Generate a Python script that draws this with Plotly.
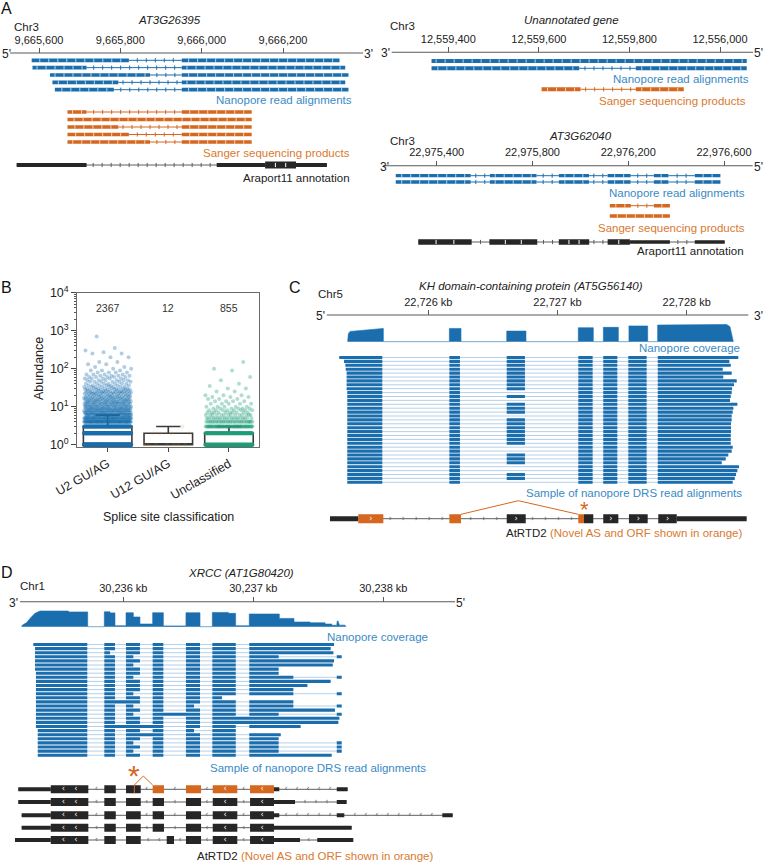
import plotly.graph_objects as go

W, H = 764, 862
FONT = "Liberation Sans, Arial, Helvetica, sans-serif"
BLUE = "#1b6eae"
BLUE_TXT = "#3a8ac6"
BLUE_LT = "#b5d1e8"
ORANGE = "#d6671f"
ORANGE_TXT = "#d9792f"
DARK = "#262626"
GRAY = "#5e5e5e"
AXIS = "#5a5a5a"

# ===================== DATA =====================
# ---- Panel A (left): AT3G26395, Chr3 (bp) ----
a1_ticks = [9665600, 9665800, 9666000, 9666200]
a1_tick_labels = ["9,665,600", "9,665,800", "9,666,000", "9,666,200"]
a1_span = [9665529, 9666397]
a1_nanopore = [
    [(9665582, 9665821), (9665951, 9666339)],
    [(9665584, 9665717), (9665951, 9666353)],
    [(9665627, 9665873), (9665951, 9666361)],
    [(9665633, 9665795), (9665951, 9666353)],
    [(9665639, 9665784), (9665951, 9666361)],
]
a1_sanger = [
    [(9665670, 9665717), (9665951, 9666123)],
    [(9665670, 9666123)],
    [(9665670, 9665795), (9665951, 9666123)],
    [(9665670, 9665821), (9665951, 9666123)],
    [(9665670, 9665873), (9665951, 9666123)],
]
a1_utr = [(9665545, 9665717), (9666037, 9666156), (9666232, 9666308)]
a1_cds = [(9666156, 9666232)]

# ---- Panel A (right top): unannotated gene, Chr3 (bp) ----
a2_ticks = [12559400, 12559600, 12559800, 12560000]
a2_tick_labels = ["12,559,400", "12,559,600", "12,559,800", "12,556,000"]
a2_span = [12559275, 12560073]
a2_nanopore = [
    [(12559363, 12560059)],
    [(12559363, 12559689), (12559814, 12560059)],
]
a2_sanger = [
    [(12559606, 12559692), (12559814, 12559920)],
]

# ---- Panel A (right bottom): AT3G62040, Chr3 (bp) ----
a3_ticks = [22975400, 22975800, 22976200, 22976600]
a3_tick_labels = ["22,975,400", "22,975,800", "22,976,200", "22,976,600"]
a3_span = [22975176, 22976720]
a3_nanopore = [
    [(22975229, 22975542), (22975622, 22975817), (22975910, 22976036),
     (22976114, 22976210), (22976307, 22976368), (22976478, 22976585)],
    [(22975229, 22975542), (22975622, 22975817), (22975910, 22976036),
     (22976114, 22976210), (22976307, 22976368), (22976478, 22976585)],
]
a3_sanger = [
    [(22976123, 22976211), (22976307, 22976374)],
    [(22976123, 22976374)],
]
a3_cds = [(22975323, 22975546), (22975620, 22975820), (22975910, 22976037), (22976114, 22976207)]
a3_utr = [(22976207, 22976374), (22976478, 22976603)]

# ---- Panel B: splice-site classes, abundance value -> number of junctions ----
b_categories = ["U2 GU/AG", "U12 GU/AG", "Unclassified"]
b_totals = ["2367", "12", "855"]
u2_levels = [1, 2, 3, 4, 5, 6, 7, 8, 9, 10, 11, 12, 13, 14, 15, 16, 17, 18, 19, 20,
             22, 24, 26, 28, 30, 33, 36, 40, 45, 50, 55, 60, 65, 70, 80, 90, 100,
             110, 130, 150, 200, 250, 270, 300, 350, 700]
u2_counts = [1210, 380, 200, 95, 70, 50, 38, 30, 24, 22, 18, 16, 14, 13, 12, 11, 10, 9, 8, 8,
             14, 13, 10, 9, 8, 8, 7, 7, 6, 6, 5, 5, 4, 4, 4, 3, 2,
             2, 2, 2, 2, 2, 1, 1, 1, 1]
u12_levels = [1, 2, 3]
u12_counts = [7, 4, 1]
unc_levels = [1, 2, 3, 4, 5, 6, 7, 8, 9, 10, 12, 14, 16, 18, 20, 25, 30, 35, 40, 50, 60, 90, 100, 150]
unc_counts = [458, 200, 70, 35, 20, 14, 10, 8, 6, 5, 5, 4, 3, 3, 3, 2, 2, 1, 1, 1, 1, 1, 1, 1]

# ---- Panel C: KH domain-containing protein (AT5G56140), Chr5 (kb) ----
c_ticks = [22726, 22727, 22728]
c_tick_labels = ["22,726 kb", "22,727 kb", "22,728 kb"]
c_span = [22725.214, 22728.477]
c_cov_kb = [22725.376, 22725.381, 22725.394, 22725.523, 22725.647, 22725.652, 22725.652,
            22726.163, 22726.163, 22726.253, 22726.253,
            22726.607, 22726.607, 22726.756, 22726.756,
            22727.161, 22727.161, 22727.277, 22727.277,
            22727.355, 22727.355, 22727.471, 22727.471,
            22727.553, 22727.553, 22727.698, 22727.698,
            22727.775, 22727.775, 22728.258, 22728.309, 22728.335, 22728.356, 22728.361]
c_cov_depth = [0, 45, 58, 66, 75, 75, 0,
               0, 75, 75, 0,
               0, 60, 60, 0,
               0, 79, 79, 0,
               0, 81, 81, 0,
               0, 89, 89, 0,
               0, 94, 100, 97, 85, 19, 0]
c_exon_start = [22725.373, 22726.163, 22726.607, 22727.161, 22727.354, 22727.548, 22727.776]
c_exon_end = [22725.644, 22726.245, 22726.748, 22727.272, 22727.463, 22727.690]
c_read_start = [22725.311, 22725.348, 22725.358, 22725.361, 22725.368, 22725.368, 22725.368,
                22725.368, 22725.368] + [22725.373] * 24
c_read_end = [22728.399, 22728.330, 22728.341, 22728.279, 22728.348, 22728.283, 22728.387,
              22728.366, 22728.351, 22728.348, 22728.341, 22728.335, 22728.392, 22728.361,
              22728.356, 22728.348, 22728.348, 22728.343, 22728.343, 22728.343, 22728.341,
              22728.341, 22728.341, 22728.356, 22728.348, 22728.322, 22728.302, 22728.271,
              22728.405, 22728.392, 22728.382, 22728.372, 22728.356]
c_reads_skip_exon3 = [9, 11, 15, 23, 24, 28, 29, 32]
c_ann_utr = [(22725.239, 22725.458), (22727.923, 22728.464)]
c_ann_cds_black = [(22726.607, 22726.754), (22727.205, 22727.277), (22727.354, 22727.471),
                   (22727.553, 22727.698), (22727.780, 22727.923)]
c_ann_cds_orange = [(22725.458, 22725.652), (22726.163, 22726.253), (22727.161, 22727.205)]
c_novel_junction = [22726.253, 22726.697, 22727.161]

# ---- Panel D: XRCC (AT1G80420), Chr1 (kb) ----
d_ticks = [30236, 30237, 30238]
d_tick_labels = ["30,236 kb", "30,237 kb", "30,238 kb"]
d_span = [30235.205, 30238.552]
d_cov_kb = [30235.218, 30235.223, 30235.257, 30235.282, 30235.321, 30235.359, 30235.577, 30235.580,
            30235.726, 30235.726,
            30235.854, 30235.854, 30235.898, 30235.898, 30235.936, 30235.936, 30236.021, 30236.021,
            30236.077, 30236.077, 30236.128, 30236.128, 30236.226, 30236.226, 30236.308, 30236.308,
            30236.482, 30236.482, 30236.590, 30236.590,
            30236.685, 30236.685, 30236.808, 30236.808, 30236.864, 30236.864, 30236.969, 30236.969,
            30237.200, 30237.200, 30237.313, 30237.313, 30237.436, 30237.436, 30237.552, 30237.552,
            30237.603, 30237.603, 30237.636, 30237.641, 30237.646, 30237.652, 30237.662, 30237.705,
            30237.713]
d_cov_depth = [0, 10, 26, 53, 85, 100, 100, 94, 94, 0,
               0, 95, 95, 88, 88, 6, 6, 89, 89, 62, 62, 17, 17, 89, 89, 5, 5, 89, 89, 0,
               0, 91, 91, 85, 85, 6, 6, 81, 81, 53, 53, 30, 30, 25, 25, 17, 17, 9, 9, 4, 36, 36,
               10, 10, 0]
E1 = (30235.321, 30235.723)
E2, E2s = (30235.854, 30235.936), (30235.854, 30235.898)
E3, E3s = (30236.021, 30236.128), (30236.021, 30236.077)
E4 = (30236.226, 30236.308)
E5, E5s = (30236.482, 30236.590), (30236.482, 30236.544)
E6, E6s = (30236.685, 30236.865), (30236.685, 30236.759)
E7_START = 30236.969
MARK = (30237.642, 30237.680)
d_read_start = [30235.308] + [30235.321] * 6 + [30235.328] * 14 + [30235.342] * 7
d_reads = [
    [E2, E3, E4, E5, E6, (E7_START, 30237.621)],
    [E2, E3, E4, E5, E6, (E7_START, 30237.595)],
    [E2s, E3, E4, E5, E6, (E7_START, 30237.616)],
    [E2, E3s, E4, E5, E6, (E7_START, 30237.195), MARK],
    [E2, E3, E4, E5, E6, (E7_START, 30237.621)],
    [E2, E3s, E4, E5, E6, (E7_START, 30237.611)],
    [E2, E3, E4, E5, E6, (E7_START, 30237.195)],
    [E2, E3, E4, E5, E6, (E7_START, 30237.195)],
    [E2, E3s, E4, E5, E6, (E7_START, 30237.308), MARK],
    [E2, E3, E4, E5, E6, (E7_START, 30237.595)],
    [E2, E3, E4, E5, E6, (E7_START, 30237.416)],
    [E2, E3, E4, E5, E6, (E7_START, 30237.308)],
    [E2, E3s, E4, E5, E6, (E7_START, 30237.308), MARK],
    [E2, E3, E4, E5, E6s],
    [(30235.854, 30236.128), E4, E5, E6, (E7_START, 30237.308)],
    [E2, E3s, E4, E5s, E6, (E7_START, 30237.308), MARK],
    [E2, E3, E4, E5, E6, (E7_START, 30237.628)],
    [E2, E3s, (30236.226, 30236.590), E6, (E7_START, 30237.195), MARK],
    [E2, E3, E4, E5, (30236.685, 30237.662)],
    [E2, E3, E4, E5, (30236.685, 30237.654)],
    [(30235.854, 30236.308), E5, E6, (E7_START, 30237.364)],
    [E2, E3, E4, E5s, E6],
    [E2, (30236.021, 30236.308), E5, E6, (E7_START, 30237.211)],
    [E2, E3, E4, E5, E6, (E7_START, 30237.195)],
    [E2, E3s, E4, E5, E6, (E7_START, 30237.195), MARK],
    [E2, E3, E4, E5, E6, (E7_START, 30237.195), MARK],
    [E2, E3s, E4, E5, E6, (E7_START, 30237.195), MARK],
    [E2, E3, E4, E5, E6, (E7_START, 30237.603)],
]
d_cds_common = [(30235.442, 30235.731), (30235.854, 30235.942), (30236.021, 30236.134)]
d_cds_rest = [(30236.226, 30236.313), (30236.482, 30236.598), (30236.688, 30236.877), (30236.975, 30237.159)]
d_tx_utr = [
    [(30235.192, 30235.442), (30237.159, 30237.200), (30237.642, 30237.726)],
    [(30235.192, 30235.442), (30237.159, 30237.321), (30237.642, 30237.718)],
    [(30235.218, 30235.442), (30237.159, 30237.200), (30237.642, 30237.700), (30238.454, 30238.534)],
    [(30235.218, 30235.442), (30237.159, 30237.757)],
    [(30235.167, 30235.442), (30237.159, 30237.359), (30237.492, 30237.769)],
]
d_tx_cds_black = [
    d_cds_common,
    d_cds_common + d_cds_rest,
    d_cds_common + d_cds_rest,
    d_cds_common + d_cds_rest,
    d_cds_common + [(30236.334, 30236.390), (30236.482, 30236.598), (30236.688, 30236.877), (30236.975, 30237.159)],
]
d_tx_cds_orange = [d_cds_rest, [], [], [], []]
d_novel_donor = 30236.085
d_novel_junction = [30236.085, 30236.154, 30236.226]

# ===================== FIGURE =====================
fig = go.Figure()
layout = {}
annotations = []


def gaxis(idx, g1, p1, g2, p2, yline, tickvals, ticktext):
    s = (p2 - p1) / (g2 - g1)
    layout["xaxis%d" % idx] = dict(
        domain=[0, 1], range=[g1 - p1 / s, g1 + (W - p1) / s], anchor="free",
        position=1 - yline / H, side="top", ticks="outside", ticklen=5, tickwidth=1.1,
        tickcolor=AXIS, showline=False, showgrid=False, zeroline=False, automargin=False,
        tickmode="array", tickvals=tickvals, ticktext=ticktext,
        tickfont=dict(size=11, color="#222", family=FONT), fixedrange=True)
    return "x%d" % idx, s


def add_rects(xa, rects, color):
    if not rects:
        return
    xs, ys = [], []
    for g0, g1, yc, h in rects:
        xs += [g0, g1, g1, g0, g0, None]
        ys += [yc - h / 2, yc - h / 2, yc + h / 2, yc + h / 2, yc - h / 2, None]
    fig.add_trace(go.Scatter(x=xs, y=ys, xaxis=xa, yaxis="y", mode="lines", fill="toself",
                             fillcolor=color, line=dict(width=0, color=color),
                             hoverinfo="skip", showlegend=False))


def add_lines(xa, paths, color, width):
    if not paths:
        return
    xs, ys = [], []
    for p in paths:
        for (x, y) in p:
            xs.append(x)
            ys.append(y)
        xs.append(None)
        ys.append(None)
    fig.add_trace(go.Scatter(x=xs, y=ys, xaxis=xa, yaxis="y", mode="lines",
                             line=dict(width=width, color=color), hoverinfo="skip", showlegend=False))


def add_marks(xa, pts, color, size=3, lw=1):
    if not pts:
        return
    fig.add_trace(go.Scatter(x=[p[0] for p in pts], y=[p[1] for p in pts], xaxis=xa, yaxis="y",
                             mode="markers", marker=dict(symbol="line-ns", size=size,
                                                         line=dict(width=lw, color=color)),
                             hoverinfo="skip", showlegend=False))


def add_chevrons(xa, pts, char, color, size=8):
    if not pts:
        return
    fig.add_trace(go.Scatter(x=[p[0] for p in pts], y=[p[1] for p in pts], xaxis=xa, yaxis="y",
                             mode="text", text=[char] * len(pts),
                             textfont=dict(size=size, color=color, family="DejaVu Sans"),
                             textposition="middle center", hoverinfo="skip", showlegend=False))


def spaced(g0, g1, step):
    out = []
    n = int((g1 - g0) / step)
    if n < 1:
        return out
    off = (g1 - g0 - (n - 1) * step) / 2
    for k in range(n):
        out.append(g0 + off + k * step)
    return out


def gaps(blocks):
    b = sorted(blocks)
    res = []
    for (s0, e0), (s1, e1) in zip(b[:-1], b[1:]):
        if s1 > e0:
            res.append((e0, s1))
    return res


def label(text, x, y, size=11, color="#222", xanchor="center", angle=0, xref="paper"):
    xv = x / W if xref == "paper" else x
    annotations.append(dict(text=text, x=xv, y=y, xref=xref, yref="y", xanchor=xanchor,
                            yanchor="middle", showarrow=False, textangle=angle,
                            font=dict(size=size, color=color, family=FONT)))


def strand_axis(xa, span, yline, left, right, p_left, p_right):
    add_lines(xa, [[(span[0], yline), (span[1], yline)]], AXIS, 1.1)
    label(left, p_left, yline + 1, size=12)
    label(right, p_right, yline + 1, size=12)


def draw_simple_reads(xa, s, reads, y0, pitch, h, color, mark_px=9):
    rects, paths, wmarks, imarks = [], [], [], []
    for i, blocks in enumerate(reads):
        yc = y0 + i * pitch
        for g0, g1 in blocks:
            rects.append((g0, g1, yc, h))
            for g in spaced(g0, g1, mark_px / s):
                wmarks.append((g, yc))
        for g0, g1 in gaps(blocks):
            paths.append([(g0, yc), (g1, yc)])
            for g in spaced(g0, g1, mark_px / s):
                imarks.append((g, yc))
    add_lines(xa, paths, color, 1)
    add_marks(xa, imarks, color, size=3, lw=1)
    add_rects(xa, rects, color)
    add_marks(xa, wmarks, "rgba(255,255,255,0.85)", size=2.5, lw=0.8)


def draw_transcript(xa, s, yc, utr, cds_black, cds_orange, h_utr, h_cds, char,
                    intron_px=13, mark_kind="chev", one_px=20, two_px=30):
    blocks = utr + cds_black + cds_orange
    lo = min(b[0] for b in blocks)
    hi = max(b[1] for b in blocks)
    add_lines(xa, [[(lo, yc), (hi, yc)]], GRAY, 1)
    ipts = []
    for g0, g1 in gaps(blocks):
        for g in spaced(g0, g1, intron_px / s):
            ipts.append((g, yc))
    add_rects(xa, [(g0, g1, yc, h_utr) for g0, g1 in utr], DARK)
    add_rects(xa, [(g0, g1, yc, h_cds) for g0, g1 in cds_black], DARK)
    add_rects(xa, [(g0, g1, yc, h_cds) for g0, g1 in cds_orange], ORANGE)
    cpts = []
    for g0, g1 in cds_black + cds_orange:
        wpx = (g1 - g0) * s
        if wpx >= one_px:
            n = 2 if wpx > two_px else 1
            step = (g1 - g0) / (n + 1)
            for k in range(n):
                cpts.append((g0 + step * (k + 1), yc))
    if mark_kind == "chev":
        add_chevrons(xa, ipts, char, GRAY, size=8)
        add_chevrons(xa, cpts, char, "white", size=8)
    else:
        add_marks(xa, ipts, GRAY, size=3, lw=1)
        add_marks(xa, cpts, "white", size=3, lw=1)


# ---------- global pixel y-axis ----------
layout["xaxis"] = dict(domain=[0, 1], range=[0, W], visible=False, fixedrange=True)
layout["yaxis"] = dict(domain=[0, 1], range=[H, 0], visible=False, fixedrange=True)

# ---------- Panel A left ----------
xa, s = gaxis(2, 9665600, 39, 9666200, 283, 53, a1_ticks, a1_tick_labels)
strand_axis(xa, a1_span, 53, "5'", "3'", 6, 368)
draw_simple_reads(xa, s, a1_nanopore, 60.3, 7.35, 3.7, BLUE)
draw_simple_reads(xa, s, a1_sanger, 112, 7.5, 3.7, ORANGE)
draw_transcript(xa, s, 165, a1_utr, a1_cds, [], 4, 7, "", intron_px=9, mark_kind="tick")
label("<i>AT3G26395</i>", 169.5, 20, size=11.5)
label("Chr3", 26, 27, size=11.5)
label("Nanopore read alignments", 354, 100, color=BLUE_TXT, xanchor="right", size=11.5)
label("Sanger sequencing products", 352, 153, color=ORANGE_TXT, xanchor="right", size=11.5)
label("Araport11 annotation", 352, 178, color="#222", xanchor="right", size=11.5)

# ---------- Panel A right top ----------
xa, s = gaxis(3, 12559400, 448.3, 12560000, 720, 52.3, a2_ticks, a2_tick_labels)
strand_axis(xa, a2_span, 52.3, "3'", "5'", 386, 758)
draw_simple_reads(xa, s, a2_nanopore, 61, 7.3, 4, BLUE)
draw_simple_reads(xa, s, a2_sanger, 89.3, 7.3, 4, ORANGE)
label("<i>Unannotated gene</i>", 571.2, 20, size=11.5)
label("Chr3", 402.5, 25.5, size=11.5)
label("Nanopore read alignments", 750.7, 79, color=BLUE_TXT, xanchor="right", size=11.5)
label("Sanger sequencing products", 748.3, 100.7, color=ORANGE_TXT, xanchor="right", size=11.5)

# ---------- Panel A right bottom ----------
xa, s = gaxis(4, 22975400, 436.7, 22976600, 724, 165.7, a3_ticks, a3_tick_labels)
strand_axis(xa, a3_span, 165.7, "3'", "5'", 384, 758)
draw_simple_reads(xa, s, a3_nanopore, 175.7, 6.3, 3.3, BLUE)
draw_simple_reads(xa, s, a3_sanger, 205.7, 10.3, 3.5, ORANGE)
draw_transcript(xa, s, 242, a3_utr, a3_cds, [], 3.5, 5.5, "", intron_px=9, mark_kind="tick")
label("<i>AT3G62040</i>", 580.3, 135.7, size=11.5)
label("Chr3", 402.5, 141.3, size=11.5)
label("Nanopore read alignments", 746.7, 193.3, color=BLUE_TXT, xanchor="right", size=11.5)
label("Sanger sequencing products", 746.7, 227.7, color=ORANGE_TXT, xanchor="right", size=11.5)
label("Araport11 annotation", 745.7, 251, color="#222", xanchor="right", size=11.5)

# ---------- Panel C ----------
xa, s = gaxis(5, 22726, 428.3, 22728, 686.7, 315, c_ticks, c_tick_labels)
strand_axis(xa, c_span, 315, "5'", "3'", 320, 758)
base, hscale = 341.7, 17.7 / 100
fig.add_trace(go.Scatter(x=c_cov_kb, y=[base - d * hscale for d in c_cov_depth], xaxis=xa, yaxis="y",
                         mode="lines", fill="toself", fillcolor=BLUE, line=dict(width=0.6, color=BLUE),
                         hoverinfo="skip", showlegend=False))
c_rects, c_paths = [], []
for i in range(len(c_read_start)):
    yc = 357.5 + i * 3.9
    st, en = c_read_start[i], c_read_end[i]
    c_paths.append([(st, yc), (en, yc)])
    for k in range(len(c_exon_start)):
        if k == 2 and i in c_reads_skip_exon3:
            continue
        g0 = st if k == 0 else c_exon_start[k]
        g1 = en if k == len(c_exon_start) - 1 else c_exon_end[k]
        c_rects.append((g0, g1, yc, 3.1))
add_lines(xa, c_paths, BLUE_LT, 1)
add_rects(xa, c_rects, BLUE)
draw_transcript(xa, s, 518.7, c_ann_utr, c_ann_cds_black, c_ann_cds_orange, 5, 9, "›",
                one_px=14, two_px=60)
add_lines(xa, [[(c_novel_junction[0], 514.3), (c_novel_junction[1], 500.7), (c_novel_junction[2], 514.3)]],
          ORANGE, 1)
label("*", 584, 509.5, size=22, color=ORANGE)
label("<i>KH domain-containing protein (AT5G56140)</i>", 531.2, 286, size=11.5)
label("Chr5", 330.7, 294, size=11.5)
label("Nanopore coverage", 741.7, 348.3, color=BLUE_TXT, xanchor="right", size=11.5)
label("Sample of nanopore DRS read alignments", 744.3, 492.7, color=BLUE_TXT, xanchor="right", size=11.5)
label("AtRTD2 <span style='color:%s'>(Novel AS and ORF shown in orange)</span>" % ORANGE_TXT,
      744.3, 533.3, xanchor="right", size=11.5)

# ---------- Panel D ----------
xa, s = gaxis(6, 30236, 123.3, 30238, 383.3, 601.7, d_ticks, d_tick_labels)
strand_axis(xa, d_span, 601.7, "3'", "5'", 14, 460)
base, hscale = 626.7, 15.7 / 100
fig.add_trace(go.Scatter(x=d_cov_kb, y=[base - d * hscale for d in d_cov_depth], xaxis=xa, yaxis="y",
                         mode="lines", fill="toself", fillcolor=BLUE, line=dict(width=0.6, color=BLUE),
                         hoverinfo="skip", showlegend=False))
d_rects, d_paths = [], []
for i, blocks in enumerate(d_reads):
    yc = 644.5 + i * 4.1
    allb = [(d_read_start[i], E1[1])] + blocks
    d_paths.append([(allb[0][0], yc), (max(b[1] for b in allb), yc)])
    for g0, g1 in allb:
        d_rects.append((g0, g1, yc, 3.1))
add_lines(xa, d_paths, BLUE_LT, 1)
add_rects(xa, d_rects, BLUE)
tx_y = [789.3, 802, 815.3, 827.7, 840]
for i in range(5):
    draw_transcript(xa, s, tx_y[i], d_tx_utr[i], d_tx_cds_black[i], d_tx_cds_orange[i], 4, 8, "‹",
                    intron_px=11, one_px=20, two_px=30)
add_lines(xa, [[(d_novel_junction[0], 785), (d_novel_junction[1], 776), (d_novel_junction[2], 785)],
               [(d_novel_donor, 785), (d_novel_donor, 793.3)]], ORANGE, 1)
label("*", 134.3, 775, size=30, color=ORANGE)
label("<i>XRCC (AT1G80420)</i>", 240.8, 573.3, size=11.5)
label("Chr1", 32.3, 585.5, size=11.5)
label("Nanopore coverage", 430, 637.3, color=BLUE_TXT, xanchor="right", size=11.5)
label("Sample of nanopore DRS read alignments", 428.3, 768.3, color=BLUE_TXT, xanchor="right", size=11.5)
label("AtRTD2 <span style='color:%s'>(Novel AS and ORF shown in orange)</span>" % ORANGE_TXT,
      435, 855.7, xanchor="right", size=11.5)

# ---------- Panel B ----------
def expand(levels, counts):
    out = []
    for v, c in zip(levels, counts):
        out += [v] * c
    return out


b_values = [expand(u2_levels, u2_counts), expand(u12_levels, u12_counts), expand(unc_levels, unc_counts)]
b_colors = ["#1a6faf", "#de8f05", "#1f9e77"]
b_alpha = [0.35, 0.15, 0.35]
for i, vals in enumerate(b_values):
    jit = [((k * 0.6180339887) % 1.0 - 0.5) * 0.78 for k in range(len(vals))]
    fig.add_trace(go.Scatter(x=[i + j for j in jit], y=vals, xaxis="x7", yaxis="y2", mode="markers",
                             marker=dict(size=4, color=b_colors[i], opacity=b_alpha[i], line=dict(width=0)),
                             hoverinfo="skip", showlegend=False))
for i, vals in enumerate(b_values):
    fig.add_trace(go.Box(y=vals, x0=i, xaxis="x7", yaxis="y2", boxpoints="outliers", width=0.8,
                         whiskerwidth=0.5, fillcolor="rgba(0,0,0,0)",
                         marker=dict(size=1, opacity=0),
                         line=dict(color="#3a3a3a", width=1.6), hoverinfo="skip", showlegend=False))
minor_vals = [m * 10 ** e for e in range(0, 4) for m in range(2, 10)]
layout["xaxis7"] = dict(domain=[77.3 / W, 259.3 / W], anchor="y2", range=[-0.5, 2.5],
                        tickmode="array", tickvals=[0, 1, 2], ticktext=b_categories, tickangle=-30,
                        ticks="outside", ticklen=4, tickcolor="#444", showline=True, mirror=True,
                        linecolor="#6a6a6a", linewidth=1.2, showgrid=False, zeroline=False,
                        automargin=False, tickfont=dict(size=12.5, color="#222", family=FONT),
                        fixedrange=True)
layout["yaxis2"] = dict(domain=[1 - 446.7 / H, 1 - 292.7 / H], anchor="x7", type="log",
                        range=[-0.053, 4], tickmode="array", tickvals=[1, 10, 100, 1000, 10000],
                        ticktext=["10<sup>%d</sup>" % k for k in range(5)], ticks="outside",
                        ticklen=5, tickcolor="#444", showline=True, mirror=True, linecolor="#6a6a6a",
                        linewidth=1.2, showgrid=False, zeroline=False, automargin=False,
                        tickfont=dict(size=12.5, color="#222", family=FONT),
                        minor=dict(ticks="outside", ticklen=2.5, tickcolor="#555", tickmode="array",
                                   tickvals=minor_vals, showgrid=False),
                        fixedrange=True)
for i, t in enumerate(b_totals):
    label(t, i, 307.7, size=10.5, color="#333", xref="x7")
label("Abundance", 39, 369, size=12.5, angle=-90)
label("Splice site classification", 168, 516.7, size=12.5)

# ---------- panel letters ----------
label("A", 7, 8, size=16, color="#111")
label("B", 7, 287, size=16, color="#111")
label("C", 295, 287, size=16, color="#111")
label("D", 7, 572, size=16, color="#111")

layout.update(dict(width=W, height=H, margin=dict(l=0, r=0, t=0, b=0, pad=0), autosize=False,
                   template="none", paper_bgcolor="white", plot_bgcolor="rgba(0,0,0,0)",
                   font=dict(family=FONT, color="#222"), showlegend=False, annotations=annotations))
fig.update_layout(**layout)
fig.write_html("out.html", config={"displayModeBar": False},
               post_script="document.body.style.margin='0';document.body.style.padding='0';")
